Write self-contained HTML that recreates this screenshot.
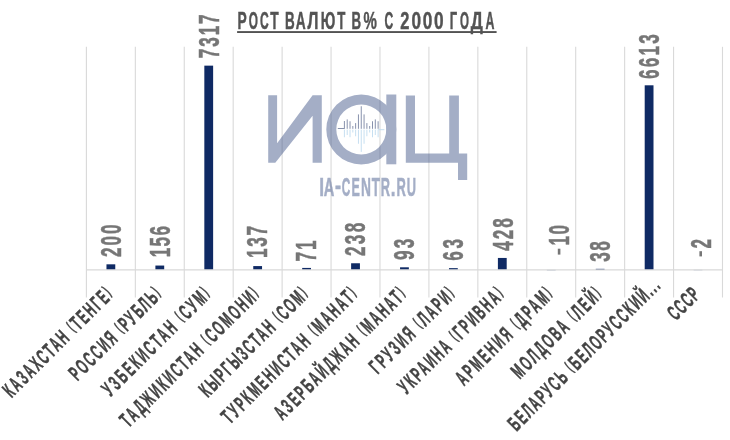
<!DOCTYPE html><html><head><meta charset="utf-8"><style>html,body{margin:0;padding:0;background:#fff;width:730px;height:440px;overflow:hidden}svg{display:block;will-change:transform}</style></head><body>
<svg width="730" height="440" viewBox="0 0 730 440">
<rect width="730" height="440" fill="#fff"/>
<line x1="86.40" y1="46.8" x2="86.40" y2="297.5" stroke="#d9d9d9" stroke-width="1.1"/>
<line x1="135.33" y1="46.8" x2="135.33" y2="297.5" stroke="#d9d9d9" stroke-width="1.1"/>
<line x1="184.26" y1="46.8" x2="184.26" y2="297.5" stroke="#d9d9d9" stroke-width="1.1"/>
<line x1="233.19" y1="46.8" x2="233.19" y2="297.5" stroke="#d9d9d9" stroke-width="1.1"/>
<line x1="282.12" y1="46.8" x2="282.12" y2="297.5" stroke="#d9d9d9" stroke-width="1.1"/>
<line x1="331.05" y1="46.8" x2="331.05" y2="297.5" stroke="#d9d9d9" stroke-width="1.1"/>
<line x1="379.98" y1="46.8" x2="379.98" y2="297.5" stroke="#d9d9d9" stroke-width="1.1"/>
<line x1="428.91" y1="46.8" x2="428.91" y2="297.5" stroke="#d9d9d9" stroke-width="1.1"/>
<line x1="477.84" y1="46.8" x2="477.84" y2="297.5" stroke="#d9d9d9" stroke-width="1.1"/>
<line x1="526.77" y1="46.8" x2="526.77" y2="297.5" stroke="#d9d9d9" stroke-width="1.1"/>
<line x1="575.70" y1="46.8" x2="575.70" y2="297.5" stroke="#d9d9d9" stroke-width="1.1"/>
<line x1="624.63" y1="46.8" x2="624.63" y2="297.5" stroke="#d9d9d9" stroke-width="1.1"/>
<line x1="673.56" y1="46.8" x2="673.56" y2="297.5" stroke="#d9d9d9" stroke-width="1.1"/>
<line x1="722.49" y1="46.8" x2="722.49" y2="297.5" stroke="#d9d9d9" stroke-width="1.1"/>
<g fill="#3f5488" opacity="0.47">
<path d="M268.2,95.3H277.1V143.2L312.6,95.3H321.8V162.7H312.6V115.7L275.3,162.7H268.2Z"/>
<path fill-rule="evenodd" d="M396.3,129.5A35,35 0 1 0 326.3,129.5A35,35 0 1 0 396.3,129.5ZM386.3,129.5A25,25 0 1 0 336.3,129.5A25,25 0 1 0 386.3,129.5Z"/>
<rect x="386.3" y="94.5" width="10" height="69.8"/>
<path d="M405.8,95.4H415V153.6H449.2V95.4H458.9V153.6H467.2V180.1H458V162.7H405.8Z"/>
</g>
<g stroke-width="1.0">
<line x1="337.8" y1="128.5" x2="344.4" y2="128.5" stroke="#8892ad"/>
<line x1="378.1" y1="129.7" x2="384.4" y2="129.7" stroke="#c6dff1"/>
<line x1="344.40" y1="121" x2="344.40" y2="128.8" stroke="#8892ad"/>
<line x1="344.40" y1="129.6" x2="344.40" y2="137.25" stroke="#c6dff1"/>
<line x1="347.21" y1="119.4" x2="347.21" y2="128.8" stroke="#8892ad"/>
<line x1="347.21" y1="129.6" x2="347.21" y2="135" stroke="#c6dff1"/>
<line x1="350.02" y1="121.25" x2="350.02" y2="128.8" stroke="#8892ad"/>
<line x1="350.02" y1="129.6" x2="350.02" y2="137.25" stroke="#c6dff1"/>
<line x1="352.83" y1="126" x2="352.83" y2="128.8" stroke="#8892ad"/>
<line x1="352.83" y1="129.6" x2="352.83" y2="132.5" stroke="#c6dff1"/>
<line x1="355.64" y1="123.1" x2="355.64" y2="128.8" stroke="#8892ad"/>
<line x1="355.64" y1="129.6" x2="355.64" y2="136.25" stroke="#c6dff1"/>
<line x1="358.45" y1="114.4" x2="358.45" y2="128.8" stroke="#8892ad"/>
<line x1="358.45" y1="129.6" x2="358.45" y2="143.75" stroke="#c6dff1"/>
<line x1="361.26" y1="106.25" x2="361.26" y2="128.8" stroke="#8892ad"/>
<line x1="361.26" y1="129.6" x2="361.26" y2="151.9" stroke="#c6dff1"/>
<line x1="364.07" y1="114.4" x2="364.07" y2="128.8" stroke="#8892ad"/>
<line x1="364.07" y1="129.6" x2="364.07" y2="143.75" stroke="#c6dff1"/>
<line x1="366.88" y1="123.1" x2="366.88" y2="128.8" stroke="#8892ad"/>
<line x1="366.88" y1="129.6" x2="366.88" y2="136.25" stroke="#c6dff1"/>
<line x1="369.69" y1="126" x2="369.69" y2="128.8" stroke="#8892ad"/>
<line x1="369.69" y1="129.6" x2="369.69" y2="132.5" stroke="#c6dff1"/>
<line x1="372.50" y1="121.25" x2="372.50" y2="128.8" stroke="#8892ad"/>
<line x1="372.50" y1="129.6" x2="372.50" y2="137.25" stroke="#c6dff1"/>
<line x1="375.31" y1="119.4" x2="375.31" y2="128.8" stroke="#8892ad"/>
<line x1="375.31" y1="129.6" x2="375.31" y2="135" stroke="#c6dff1"/>
<line x1="378.12" y1="121.25" x2="378.12" y2="128.8" stroke="#8892ad"/>
<line x1="378.12" y1="129.6" x2="378.12" y2="137.25" stroke="#c6dff1"/>
</g>
<g fill="#3f5488" stroke="#3f5488" stroke-width="0.5" opacity="0.47">
<text transform="translate(319.19,196.35) scale(0.690,1)" style="font-family:'Liberation Sans',sans-serif;font-weight:bold;font-size:25.15px" vector-effect="non-scaling-stroke">I</text>
<text transform="translate(323.69,196.35) scale(0.581,1)" style="font-family:'Liberation Sans',sans-serif;font-weight:bold;font-size:25.15px" vector-effect="non-scaling-stroke">A</text>
<text transform="translate(335.04,194.35) scale(0.720,1)" style="font-family:'Liberation Sans',sans-serif;font-weight:bold;font-size:25.15px" vector-effect="non-scaling-stroke">-</text>
<text transform="translate(341.77,196.35) scale(0.468,1)" style="font-family:'Liberation Sans',sans-serif;font-weight:bold;font-size:25.15px" vector-effect="non-scaling-stroke">C</text>
<text transform="translate(351.62,196.35) scale(0.496,1)" style="font-family:'Liberation Sans',sans-serif;font-weight:bold;font-size:25.15px" vector-effect="non-scaling-stroke">E</text>
<text transform="translate(361.03,196.35) scale(0.548,1)" style="font-family:'Liberation Sans',sans-serif;font-weight:bold;font-size:25.15px" vector-effect="non-scaling-stroke">N</text>
<text transform="translate(371.70,196.35) scale(0.520,1)" style="font-family:'Liberation Sans',sans-serif;font-weight:bold;font-size:25.15px" vector-effect="non-scaling-stroke">T</text>
<text transform="translate(380.80,196.35) scale(0.507,1)" style="font-family:'Liberation Sans',sans-serif;font-weight:bold;font-size:25.15px" vector-effect="non-scaling-stroke">R</text>
<text transform="translate(390.80,196.35) scale(0.676,1)" style="font-family:'Liberation Sans',sans-serif;font-weight:bold;font-size:25.15px" vector-effect="non-scaling-stroke">.</text>
<text transform="translate(396.39,196.35) scale(0.514,1)" style="font-family:'Liberation Sans',sans-serif;font-weight:bold;font-size:25.15px" vector-effect="non-scaling-stroke">R</text>
<text transform="translate(406.78,196.35) scale(0.509,1)" style="font-family:'Liberation Sans',sans-serif;font-weight:bold;font-size:25.15px" vector-effect="non-scaling-stroke">U</text>
</g>
<g fill="#535353" stroke="#535353" stroke-width="0.4">
<text transform="translate(237.38,28.60) scale(0.592,1)" style="font-family:'Liberation Sans',sans-serif;font-weight:bold;font-size:23.3px" vector-effect="non-scaling-stroke">Р</text>
<text transform="translate(248.72,28.60) scale(0.507,1)" style="font-family:'Liberation Sans',sans-serif;font-weight:bold;font-size:23.3px" vector-effect="non-scaling-stroke">О</text>
<text transform="translate(260.00,28.60) scale(0.519,1)" style="font-family:'Liberation Sans',sans-serif;font-weight:bold;font-size:23.3px" vector-effect="non-scaling-stroke">С</text>
<text transform="translate(270.35,28.60) scale(0.590,1)" style="font-family:'Liberation Sans',sans-serif;font-weight:bold;font-size:23.3px" vector-effect="non-scaling-stroke">Т</text>
<text transform="translate(285.00,28.60) scale(0.577,1)" style="font-family:'Liberation Sans',sans-serif;font-weight:bold;font-size:23.3px" vector-effect="non-scaling-stroke">В</text>
<text transform="translate(295.86,28.60) scale(0.589,1)" style="font-family:'Liberation Sans',sans-serif;font-weight:bold;font-size:23.3px" vector-effect="non-scaling-stroke">А</text>
<text transform="translate(307.44,28.60) scale(0.667,1)" style="font-family:'Liberation Sans',sans-serif;font-weight:bold;font-size:23.3px" vector-effect="non-scaling-stroke">Л</text>
<text transform="translate(320.76,28.60) scale(0.605,1)" style="font-family:'Liberation Sans',sans-serif;font-weight:bold;font-size:23.3px" vector-effect="non-scaling-stroke">Ю</text>
<text transform="translate(337.35,28.60) scale(0.568,1)" style="font-family:'Liberation Sans',sans-serif;font-weight:bold;font-size:23.3px" vector-effect="non-scaling-stroke">Т</text>
<text transform="translate(351.41,28.60) scale(0.570,1)" style="font-family:'Liberation Sans',sans-serif;font-weight:bold;font-size:23.3px" vector-effect="non-scaling-stroke">В</text>
<text transform="translate(363.53,28.60) scale(0.645,1)" style="font-family:'Liberation Sans',sans-serif;font-weight:bold;font-size:23.3px" vector-effect="non-scaling-stroke">%</text>
<text transform="translate(384.60,28.60) scale(0.519,1)" style="font-family:'Liberation Sans',sans-serif;font-weight:bold;font-size:23.3px" vector-effect="non-scaling-stroke">С</text>
<text transform="translate(400.33,28.60) scale(0.704,1)" style="font-family:'Liberation Sans',sans-serif;font-weight:bold;font-size:23.3px" vector-effect="non-scaling-stroke">2</text>
<text transform="translate(411.52,28.60) scale(0.740,1)" style="font-family:'Liberation Sans',sans-serif;font-weight:bold;font-size:23.3px" vector-effect="non-scaling-stroke">0</text>
<text transform="translate(422.82,28.60) scale(0.740,1)" style="font-family:'Liberation Sans',sans-serif;font-weight:bold;font-size:23.3px" vector-effect="non-scaling-stroke">0</text>
<text transform="translate(434.12,28.60) scale(0.740,1)" style="font-family:'Liberation Sans',sans-serif;font-weight:bold;font-size:23.3px" vector-effect="non-scaling-stroke">0</text>
<text transform="translate(449.74,28.60) scale(0.554,1)" style="font-family:'Liberation Sans',sans-serif;font-weight:bold;font-size:23.3px" vector-effect="non-scaling-stroke">Г</text>
<text transform="translate(459.93,28.60) scale(0.494,1)" style="font-family:'Liberation Sans',sans-serif;font-weight:bold;font-size:23.3px" vector-effect="non-scaling-stroke">О</text>
<text transform="translate(470.85,28.60) scale(0.726,1)" style="font-family:'Liberation Sans',sans-serif;font-weight:bold;font-size:23.3px" vector-effect="non-scaling-stroke">Д</text>
<text transform="translate(485.59,28.60) scale(0.531,1)" style="font-family:'Liberation Sans',sans-serif;font-weight:bold;font-size:23.3px" vector-effect="non-scaling-stroke">А</text>
</g>
<rect x="237.1" y="31.1" width="259.5" height="1.9" fill="#535353"/>
<rect x="106.47" y="264.32" width="8.8" height="5.58" fill="#0f2a64"/>
<rect x="155.40" y="265.55" width="8.8" height="4.35" fill="#0f2a64"/>
<rect x="204.33" y="65.65" width="8.8" height="204.25" fill="#0f2a64"/>
<rect x="253.25" y="266.08" width="8.8" height="3.82" fill="#0f2a64"/>
<rect x="302.19" y="267.92" width="8.8" height="1.98" fill="#0f2a64"/>
<rect x="351.12" y="263.26" width="8.8" height="6.64" fill="#0f2a64"/>
<rect x="400.05" y="267.30" width="8.8" height="2.60" fill="#0f2a64"/>
<rect x="448.98" y="268.14" width="8.8" height="1.76" fill="#0f2a64"/>
<rect x="497.90" y="257.95" width="8.8" height="11.95" fill="#0f2a64"/>
<rect x="546.84" y="269.90" width="8.8" height="0.28" fill="#0f2a64"/>
<rect x="595.76" y="268.84" width="8.8" height="1.06" fill="#0f2a64"/>
<rect x="644.70" y="85.30" width="8.8" height="184.60" fill="#0f2a64"/>
<rect x="693.62" y="269.90" width="8.8" height="0.22" fill="#0f2a64"/>
<line x1="86.40" y1="269.79999999999995" x2="722.49" y2="269.79999999999995" stroke="#d9d9d9" stroke-width="1.3"/>
<text transform="translate(120.72,257.12) rotate(-90) scale(0.58,1)" textLength="56.14" lengthAdjust="spacing" style="font-family:'Liberation Sans',sans-serif;font-weight:bold;font-size:29.5px" fill="#767676" stroke="#767676" stroke-width="0.4" vector-effect="non-scaling-stroke">200</text>
<text transform="translate(169.65,257.35) rotate(-90) scale(0.58,1)" textLength="53.93" lengthAdjust="spacing" style="font-family:'Liberation Sans',sans-serif;font-weight:bold;font-size:29.5px" fill="#767676" stroke="#767676" stroke-width="0.4" vector-effect="non-scaling-stroke">156</text>
<text transform="translate(218.93,58.15) rotate(-90) scale(0.58,1)" textLength="75.43" lengthAdjust="spacing" style="font-family:'Liberation Sans',sans-serif;font-weight:bold;font-size:29.5px" fill="#767676" stroke="#767676" stroke-width="0.4" vector-effect="non-scaling-stroke">7317</text>
<text transform="translate(267.16,257.88) rotate(-90) scale(0.58,1)" textLength="54.98" lengthAdjust="spacing" style="font-family:'Liberation Sans',sans-serif;font-weight:bold;font-size:29.5px" fill="#767676" stroke="#767676" stroke-width="0.4" vector-effect="non-scaling-stroke">137</text>
<text transform="translate(316.09,261.62) rotate(-90) scale(0.58,1)" textLength="36.60" lengthAdjust="spacing" style="font-family:'Liberation Sans',sans-serif;font-weight:bold;font-size:29.5px" fill="#767676" stroke="#767676" stroke-width="0.4" vector-effect="non-scaling-stroke">71</text>
<text transform="translate(365.02,255.96) rotate(-90) scale(0.58,1)" textLength="57.18" lengthAdjust="spacing" style="font-family:'Liberation Sans',sans-serif;font-weight:bold;font-size:29.5px" fill="#767676" stroke="#767676" stroke-width="0.4" vector-effect="non-scaling-stroke">238</text>
<text transform="translate(414.34,260.10) rotate(-90) scale(0.58,1)" textLength="36.84" lengthAdjust="spacing" style="font-family:'Liberation Sans',sans-serif;font-weight:bold;font-size:29.5px" fill="#767676" stroke="#767676" stroke-width="0.4" vector-effect="non-scaling-stroke">93</text>
<text transform="translate(463.07,260.64) rotate(-90) scale(0.58,1)" textLength="37.32" lengthAdjust="spacing" style="font-family:'Liberation Sans',sans-serif;font-weight:bold;font-size:29.5px" fill="#767676" stroke="#767676" stroke-width="0.4" vector-effect="non-scaling-stroke">63</text>
<text transform="translate(512.55,250.65) rotate(-90) scale(0.58,1)" textLength="56.09" lengthAdjust="spacing" style="font-family:'Liberation Sans',sans-serif;font-weight:bold;font-size:29.5px" fill="#767676" stroke="#767676" stroke-width="0.4" vector-effect="non-scaling-stroke">428</text>
<text transform="translate(569.13,245.50) rotate(-90) scale(0.58,1)" textLength="35.49" lengthAdjust="spacing" style="font-family:'Liberation Sans',sans-serif;font-weight:bold;font-size:29.5px" fill="#767676" stroke="#767676" stroke-width="0.4" vector-effect="non-scaling-stroke">10</text>
<rect x="557.8" y="248.7" width="2.60" height="5.90" fill="#767676"/>
<text transform="translate(609.82,261.64) rotate(-90) scale(0.58,1)" textLength="35.30" lengthAdjust="spacing" style="font-family:'Liberation Sans',sans-serif;font-weight:bold;font-size:29.5px" fill="#767676" stroke="#767676" stroke-width="0.4" vector-effect="non-scaling-stroke">38</text>
<text transform="translate(658.79,79.10) rotate(-90) scale(0.58,1)" textLength="77.27" lengthAdjust="spacing" style="font-family:'Liberation Sans',sans-serif;font-weight:bold;font-size:29.5px" fill="#767676" stroke="#767676" stroke-width="0.4" vector-effect="non-scaling-stroke">6613</text>
<text transform="translate(710.83,248.50) rotate(-90) scale(0.58,1)" textLength="17.13" lengthAdjust="spacing" style="font-family:'Liberation Sans',sans-serif;font-weight:bold;font-size:29.5px" fill="#767676" stroke="#767676" stroke-width="0.4" vector-effect="non-scaling-stroke">2</text>
<rect x="699.4" y="251.2" width="2.60" height="5.20" fill="#767676"/>
<text transform="translate(11.53,398.53) rotate(-45) scale(0.52,1)" textLength="278.31" lengthAdjust="spacing" style="font-family:'Liberation Sans',sans-serif;font-weight:bold;font-size:21.5px" fill="#444444" stroke="#444444" stroke-width="0.4" vector-effect="non-scaling-stroke">КАЗАХСТАН <tspan style="font-size:15.91px;baseline-shift:3.29px">(</tspan>ТЕНГЕ<tspan style="font-size:15.91px;baseline-shift:3.29px">)</tspan></text>
<text transform="translate(77.60,381.40) rotate(-45) scale(0.52,1)" textLength="231.71" lengthAdjust="spacing" style="font-family:'Liberation Sans',sans-serif;font-weight:bold;font-size:21.5px" fill="#444444" stroke="#444444" stroke-width="0.4" vector-effect="non-scaling-stroke">РОССИЯ <tspan style="font-size:15.91px;baseline-shift:3.29px">(</tspan>РУБЛЬ<tspan style="font-size:15.91px;baseline-shift:3.29px">)</tspan></text>
<text transform="translate(110.56,397.36) rotate(-45) scale(0.52,1)" textLength="275.13" lengthAdjust="spacing" style="font-family:'Liberation Sans',sans-serif;font-weight:bold;font-size:21.5px" fill="#444444" stroke="#444444" stroke-width="0.4" vector-effect="non-scaling-stroke">УЗБЕКИСТАН <tspan style="font-size:15.91px;baseline-shift:3.29px">(</tspan>СУМ<tspan style="font-size:15.91px;baseline-shift:3.29px">)</tspan></text>
<text transform="translate(128.53,428.33) rotate(-45) scale(0.52,1)" textLength="359.34" lengthAdjust="spacing" style="font-family:'Liberation Sans',sans-serif;font-weight:bold;font-size:21.5px" fill="#444444" stroke="#444444" stroke-width="0.4" vector-effect="non-scaling-stroke">ТАДЖИКИСТАН <tspan style="font-size:15.91px;baseline-shift:3.29px">(</tspan>СОМОНИ<tspan style="font-size:15.91px;baseline-shift:3.29px">)</tspan></text>
<text transform="translate(207.64,398.14) rotate(-45) scale(0.52,1)" textLength="277.25" lengthAdjust="spacing" style="font-family:'Liberation Sans',sans-serif;font-weight:bold;font-size:21.5px" fill="#444444" stroke="#444444" stroke-width="0.4" vector-effect="non-scaling-stroke">КЫРГЫЗСТАН <tspan style="font-size:15.91px;baseline-shift:3.29px">(</tspan>СОМ<tspan style="font-size:15.91px;baseline-shift:3.29px">)</tspan></text>
<text transform="translate(230.06,424.66) rotate(-45) scale(0.52,1)" textLength="349.36" lengthAdjust="spacing" style="font-family:'Liberation Sans',sans-serif;font-weight:bold;font-size:21.5px" fill="#444444" stroke="#444444" stroke-width="0.4" vector-effect="non-scaling-stroke">ТУРКМЕНИСТАН <tspan style="font-size:15.91px;baseline-shift:3.29px">(</tspan>МАНАТ<tspan style="font-size:15.91px;baseline-shift:3.29px">)</tspan></text>
<text transform="translate(282.57,421.07) rotate(-45) scale(0.52,1)" textLength="339.61" lengthAdjust="spacing" style="font-family:'Liberation Sans',sans-serif;font-weight:bold;font-size:21.5px" fill="#444444" stroke="#444444" stroke-width="0.4" vector-effect="non-scaling-stroke">АЗЕРБАЙДЖАН <tspan style="font-size:15.91px;baseline-shift:3.29px">(</tspan>МАНАТ<tspan style="font-size:15.91px;baseline-shift:3.29px">)</tspan></text>
<text transform="translate(377.79,374.79) rotate(-45) scale(0.52,1)" textLength="213.73" lengthAdjust="spacing" style="font-family:'Liberation Sans',sans-serif;font-weight:bold;font-size:21.5px" fill="#444444" stroke="#444444" stroke-width="0.4" vector-effect="non-scaling-stroke">ГРУЗИЯ <tspan style="font-size:15.91px;baseline-shift:3.29px">(</tspan>ЛАРИ<tspan style="font-size:15.91px;baseline-shift:3.29px">)</tspan></text>
<text transform="translate(406.50,395.00) rotate(-45) scale(0.52,1)" textLength="268.71" lengthAdjust="spacing" style="font-family:'Liberation Sans',sans-serif;font-weight:bold;font-size:21.5px" fill="#444444" stroke="#444444" stroke-width="0.4" vector-effect="non-scaling-stroke">УКРАИНА <tspan style="font-size:15.91px;baseline-shift:3.29px">(</tspan>ГРИВНА<tspan style="font-size:15.91px;baseline-shift:3.29px">)</tspan></text>
<text transform="translate(463.97,386.47) rotate(-45) scale(0.52,1)" textLength="245.50" lengthAdjust="spacing" style="font-family:'Liberation Sans',sans-serif;font-weight:bold;font-size:21.5px" fill="#444444" stroke="#444444" stroke-width="0.4" vector-effect="non-scaling-stroke">АРМЕНИЯ <tspan style="font-size:15.91px;baseline-shift:3.29px">(</tspan>ДРАМ<tspan style="font-size:15.91px;baseline-shift:3.29px">)</tspan></text>
<text transform="translate(519.68,379.68) rotate(-45) scale(0.52,1)" textLength="227.04" lengthAdjust="spacing" style="font-family:'Liberation Sans',sans-serif;font-weight:bold;font-size:21.5px" fill="#444444" stroke="#444444" stroke-width="0.4" vector-effect="non-scaling-stroke">МОЛДОВА <tspan style="font-size:15.91px;baseline-shift:3.29px">(</tspan>ЛЕЙ<tspan style="font-size:15.91px;baseline-shift:3.29px">)</tspan></text>
<text transform="translate(516.40,431.90) rotate(-45) scale(0.52,1)" textLength="393.53" lengthAdjust="spacing" style="font-family:'Liberation Sans',sans-serif;font-weight:bold;font-size:21.5px" fill="#444444" stroke="#444444" stroke-width="0.4" vector-effect="non-scaling-stroke">БЕЛАРУСЬ <tspan style="font-size:15.91px;baseline-shift:3.29px">(</tspan>БЕЛОРУССКИЙ...</text>
<text transform="translate(675.91,321.31) rotate(-45) scale(0.52,1)" textLength="68.30" lengthAdjust="spacing" style="font-family:'Liberation Sans',sans-serif;font-weight:bold;font-size:21.5px" fill="#444444" stroke="#444444" stroke-width="0.4" vector-effect="non-scaling-stroke">СССР</text>
</svg></body></html>
